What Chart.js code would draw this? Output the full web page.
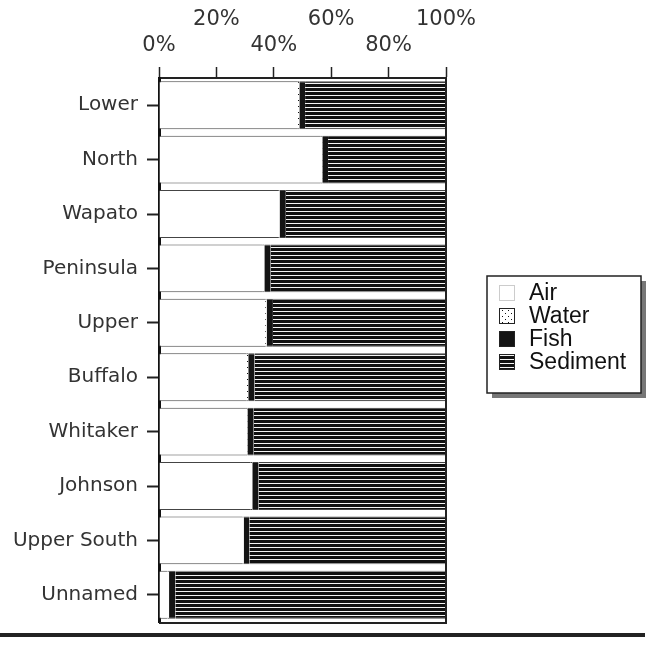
<!DOCTYPE html>
<html>
<head>
<meta charset="utf-8">
<script src="https://cdn.jsdelivr.net/npm/chart.js@4"></script>
<style>
  html, body { margin: 0; padding: 0; background: #fff; }
  #wrap { width: 647px; height: 654px; }
</style>
</head>
<body>
<div id="wrap"><canvas id="chart" width="647" height="654"></canvas></div>
<script>
// values (percent of total)
const sites = ['Lower', 'North', 'Wapato', 'Peninsula', 'Upper', 'Buffalo', 'Whitaker', 'Johnson', 'Upper South', 'Unnamed'];
const air      = [48.4, 56.4, 41.5, 36.2, 37.0, 30.6, 30.3, 32.0, 29.0, 3.0];
const water    = [0.5, 0.5, 0.5, 0.5, 0.5, 0.5, 0.5, 0.5, 0.5, 0.5];
const fish     = [2.0, 2.0, 2.2, 2.2, 2.2, 2.2, 2.2, 2.2, 2.0, 2.2];
const sediment = [49.1, 41.1, 55.8, 61.1, 60.3, 66.7, 67.0, 65.3, 68.5, 94.3];
const xTicks = [0, 20, 40, 60, 80, 100];

function makePattern(w, h, draw) {
    const c = document.createElement('canvas');
    c.width = w; c.height = h;
    const g = c.getContext('2d');
    draw(g);
    return g.createPattern(c, 'repeat');
}

const pctx = document.getElementById('chart').getContext('2d');

const waterFill = makePattern(6, 6, function(g) {
    g.fillStyle = '#fff';
    g.fillRect(0, 0, 6, 6);
    g.fillStyle = '#111';
    g.fillRect(1, 1, 1, 1);
    g.fillRect(4, 4, 1, 1);
});
const sedimentFill = makePattern(4, 4, function(g) {
    g.fillStyle = '#111';
    g.fillRect(0, 0, 4, 3);
    g.fillStyle = '#f4f4f4';
    g.fillRect(0, 3, 4, 1);
});

// frame, legend and the rule line under the chart
const extras = {
    id: 'extras',
    afterDraw(chart) {
        const ctx = chart.ctx;
        const a = chart.chartArea;
        ctx.save();
        ctx.strokeStyle = '#222';
        ctx.lineWidth = 2;
        ctx.beginPath();
        ctx.moveTo(a.right, a.top);
        ctx.lineTo(a.right, a.bottom + 1);
        ctx.lineTo(a.left, a.bottom + 1);
        ctx.stroke();

        // legend box with shadow
        const bx = 487, by = 276, bw = 154, bh = 117;
        ctx.fillStyle = '#777';
        ctx.fillRect(bx + 5, by + 5, bw, bh);
        ctx.fillStyle = '#fff';
        ctx.fillRect(bx, by, bw, bh);
        ctx.strokeStyle = '#222';
        ctx.lineWidth = 1.5;
        ctx.strokeRect(bx, by, bw, bh);

        ctx.font = '23px "Liberation Sans", Arial, sans-serif';
        ctx.textBaseline = 'middle';
        ctx.textAlign = 'left';
        chart.data.datasets.forEach((ds, i) => {
            const cy = 293 + i * 23;
            ctx.fillStyle = ds.backgroundColor;
            ctx.fillRect(499, cy - 8, 16, 16);
            ctx.strokeStyle = i === 0 ? '#999' : '#222';
            ctx.lineWidth = 1;
            if (i === 0) ctx.setLineDash([1, 1]);
            ctx.strokeRect(499.5, cy - 7.5, 15, 15);
            ctx.setLineDash([]);
            ctx.fillStyle = '#111';
            ctx.fillText(ds.label, 529, cy + 1);
        });

        ctx.fillStyle = '#222';
        ctx.fillRect(0, 633, 645, 4);
        ctx.restore();
    }
};

const chart = new Chart(pctx, {
    type: 'bar',
    data: {
        labels: sites,
        datasets: [
            { label: 'Air', data: air, backgroundColor: '#ffffff' },
            { label: 'Water', data: water, backgroundColor: waterFill },
            { label: 'Fish', data: fish, backgroundColor: '#141414' },
            { label: 'Sediment', data: sediment, backgroundColor: sedimentFill }
        ].map(d => Object.assign(d, {
            borderColor: '#444',
            borderWidth: { top: 1, bottom: 1, left: 0, right: 0 },
            borderSkipped: false,
            categoryPercentage: 1,
            barPercentage: 0.88
        }))
    },
    options: {
        indexAxis: 'y',
        responsive: false,
        animation: false,
        layout: { padding: { left: 0, right: 201, top: 0, bottom: 32 } },
        plugins: {
            legend: { display: false },
            tooltip: { enabled: false }
        },
        scales: {
            x: {
                position: 'top',
                stacked: true,
                min: 0,
                max: 100,
                afterBuildTicks: function(scale) {
                    scale.ticks = xTicks.map(v => ({ value: v }));
                },
                afterFit: function(scale) { scale.height = 78; },
                grid: {
                    drawOnChartArea: false,
                    tickLength: 11,
                    tickColor: '#222',
                    tickWidth: 1.5
                },
                border: { color: '#222', width: 2 },
                ticks: {
                    autoSkip: false,
                    maxRotation: 0,
                    padding: 8,
                    color: '#333',
                    font: { family: '"DejaVu Sans", sans-serif', size: 21, lineHeight: 1.24 },
                    callback: function(value, index) {
                        const t = value + '%';
                        return index % 2 === 1 ? [t, ''] : ['', t];
                    }
                }
            },
            y: {
                stacked: true,
                afterFit: function(scale) { scale.width = 159; },
                grid: {
                    offset: false,
                    drawOnChartArea: false,
                    tickLength: 12,
                    tickColor: '#222',
                    tickWidth: 2
                },
                border: { color: '#111', width: 3 },
                ticks: {
                    padding: 9,
                    color: '#333',
                    font: { family: '"DejaVu Sans", sans-serif', size: 20 }
                }
            }
        }
    },
    plugins: [extras]
});
</script>
</body>
</html>
